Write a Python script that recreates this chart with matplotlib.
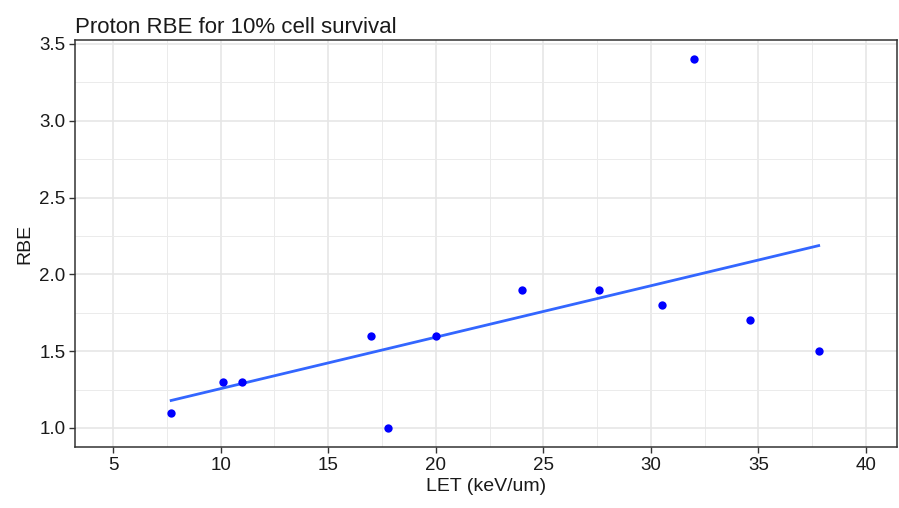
import matplotlib
matplotlib.use("Agg")
import matplotlib.pyplot as plt
import numpy as np

# valores
let_vals = [7.7, 10.1, 11.0, 17.0, 17.8, 20.0, 24.0, 27.6, 30.5, 32.0, 34.6, 37.8]
rbe_vals = [1.1, 1.3, 1.3, 1.6, 1.0, 1.6, 1.9, 1.9, 1.8, 3.4, 1.7, 1.5]
x_ticks = [5, 10, 15, 20, 25, 30, 35, 40]
y_ticks = [1.0, 1.5, 2.0, 2.5, 3.0, 3.5]

plt.rcParams['font.family'] = ['Liberation Sans', 'DejaVu Sans']

fig = plt.figure(figsize=(8.99, 5.08), dpi=100)
ax = fig.add_axes([75 / 899, 61 / 508, 822 / 899, 407 / 508])

# ajuste linear (geom_smooth method='lm')
x = np.array(let_vals)
y = np.array(rbe_vals)
coef = np.polyfit(x, y, 1)
xs = np.linspace(x.min(), x.max(), 80)
ax.plot(xs, np.polyval(coef, xs), color='#3366FF', lw=2.0, zorder=3)

ax.scatter(x, y, s=36, color='#0000FF', zorder=4, linewidths=0)

ax.set_xlim(3.23, 41.44)
ax.set_ylim(0.876, 3.526)
ax.set_xticks(x_ticks)
ax.set_yticks(y_ticks)
ax.set_yticklabels(['%.1f' % v for v in y_ticks])
ax.set_xticks(np.arange(7.5, 41, 5), minor=True)
ax.set_yticks(np.arange(1.25, 3.5, 0.5), minor=True)
ax.grid(True, which='major', color='#E6E6E6', lw=1.2)
ax.grid(True, which='minor', color='#EBEBEB', lw=0.7)
ax.set_axisbelow(True)
ax.tick_params(which='minor', length=0)
ax.tick_params(which='major', length=4, width=1, color='#333333',
               labelsize=13.5, labelcolor='#1a1a1a', pad=3)
for s in ax.spines.values():
    s.set_color('#333333')
    s.set_linewidth(1.1)

ax.set_xlabel('LET (keV/um)', fontsize=14, color='#1a1a1a', labelpad=3)
ax.set_ylabel('RBE', fontsize=14, color='#1a1a1a', labelpad=4)
ax.set_title('Proton RBE for 10% cell survival', fontsize=16, loc='left',
             color='#1a1a1a', pad=5)

fig.savefig('out.png', dpi=100)
